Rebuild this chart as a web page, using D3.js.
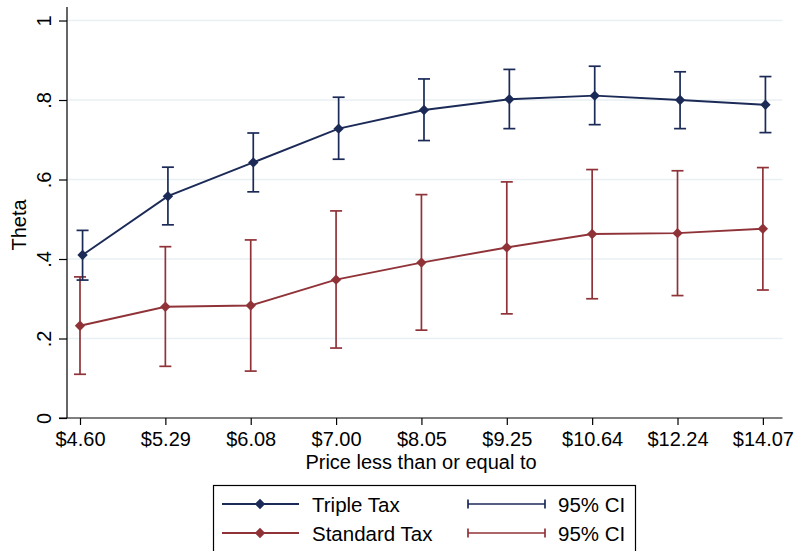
<!DOCTYPE html>
<html>
<head>
<meta charset="utf-8">
<script src="https://cdn.jsdelivr.net/npm/d3@7"></script>
<style>
  html, body { margin: 0; padding: 0; background: #fff; }
  svg { display: block; font-family: "Liberation Sans", Arial, sans-serif; }
</style>
</head>
<body>
<svg id="chart" width="796" height="551"></svg>
<script>
// Price thresholds on the x axis
const categories = ["$4.60", "$5.29", "$6.08", "$7.00", "$8.05", "$9.25", "$10.64", "$12.24", "$14.07"];

// Triple Tax estimates with 95% confidence bounds
const tripleTheta = [0.410, 0.558, 0.643, 0.728, 0.775, 0.802, 0.811, 0.800, 0.788];
const tripleLow   = [0.347, 0.486, 0.569, 0.651, 0.698, 0.728, 0.738, 0.728, 0.718];
const tripleHigh  = [0.472, 0.631, 0.717, 0.807, 0.853, 0.877, 0.885, 0.871, 0.859];

// Standard Tax estimates with 95% confidence bounds
const standardTheta = [0.232, 0.280, 0.283, 0.348, 0.391, 0.429, 0.463, 0.465, 0.476];
const standardLow   = [0.110, 0.130, 0.118, 0.176, 0.221, 0.262, 0.300, 0.308, 0.322];
const standardHigh  = [0.355, 0.431, 0.448, 0.521, 0.562, 0.594, 0.625, 0.622, 0.630];

const yTicks = [0, 0.2, 0.4, 0.6, 0.8, 1];
const yTickLabels = ["0", ".2", ".4", ".6", ".8", "1"];

const navy = "#1b2a57";
const maroon = "#903339";
const FONT = 20;

const svg = d3.select("#chart");

const x = d3.scaleLinear().domain([-0.246, 8.23]).range([59, 782.5]);
const y = d3.scaleLinear().domain([0, 1.034]).range([418, 7]);
// the Triple Tax series sits a hair to the right of each tick
const tripleShift = 0.03;

// gridlines
svg.append("g")
  .selectAll("line")
  .data(yTicks.filter(v => v > 0))
  .join("line")
  .attr("x1", 67).attr("x2", 782.5)
  .attr("y1", d => y(d)).attr("y2", d => y(d))
  .attr("stroke", "#e9f0f3").attr("stroke-width", 1.3);

// y axis
const yAxis = d3.axisLeft(y)
  .tickValues(yTicks)
  .tickFormat((d, i) => yTickLabels[i])
  .tickSize(8);
const gy = svg.append("g").attr("transform", "translate(67,0)").call(yAxis);
gy.select(".domain").remove();
gy.append("line").attr("x1", 0).attr("x2", 0).attr("y1", 7).attr("y2", 418)
  .attr("stroke", "#000").attr("stroke-width", 1.2);
gy.selectAll(".tick line").attr("stroke", "#000").attr("stroke-width", 1.2);
gy.selectAll(".tick text")
  .attr("font-size", FONT).attr("fill", "#000")
  .attr("transform", "rotate(-90)")
  .attr("x", 0).attr("y", -16).attr("dy", 0)
  .attr("text-anchor", "middle");

// x axis
const xAxis = d3.axisBottom(x)
  .tickValues(d3.range(categories.length))
  .tickFormat(i => categories[i])
  .tickSize(7)
  .tickPadding(7);
const gx = svg.append("g").attr("transform", "translate(0,418)").call(xAxis);
gx.select(".domain").remove();
gx.append("line").attr("x1", 59).attr("x2", 782.5).attr("y1", 0).attr("y2", 0)
  .attr("stroke", "#000").attr("stroke-width", 1.2);
gx.selectAll(".tick line").attr("stroke", "#000").attr("stroke-width", 1.2);
gx.selectAll(".tick text").attr("font-size", FONT).attr("fill", "#000");

// axis titles
svg.append("text")
  .attr("transform", "translate(26,225) rotate(-90)")
  .attr("text-anchor", "middle")
  .attr("font-size", FONT)
  .text("Theta");
svg.append("text")
  .attr("x", 421).attr("y", 469)
  .attr("text-anchor", "middle")
  .attr("font-size", FONT)
  .text("Price less than or equal to");

const diamondPath = d3.symbol().type(d3.symbolSquare).size(54)();

function drawSeries(theta, low, high, color, shift) {
  const g = svg.append("g");
  const cap = 6;
  // confidence intervals
  const ci = g.selectAll(".ci").data(theta.map((v, i) => ({ i, lo: low[i], hi: high[i] })))
    .join("g");
  ci.append("line")
    .attr("x1", d => x(d.i + shift)).attr("x2", d => x(d.i + shift))
    .attr("y1", d => y(d.lo)).attr("y2", d => y(d.hi))
    .attr("stroke", color).attr("stroke-width", 1.7);
  ci.append("line")
    .attr("x1", d => x(d.i + shift) - cap).attr("x2", d => x(d.i + shift) + cap)
    .attr("y1", d => y(d.lo)).attr("y2", d => y(d.lo))
    .attr("stroke", color).attr("stroke-width", 1.7);
  ci.append("line")
    .attr("x1", d => x(d.i + shift) - cap).attr("x2", d => x(d.i + shift) + cap)
    .attr("y1", d => y(d.hi)).attr("y2", d => y(d.hi))
    .attr("stroke", color).attr("stroke-width", 1.7);
  // connecting line
  g.append("path")
    .datum(theta)
    .attr("fill", "none")
    .attr("stroke", color)
    .attr("stroke-width", 1.9)
    .attr("d", d3.line().x((d, i) => x(i + shift)).y(d => y(d)));
  // diamond markers
  g.selectAll(".pt").data(theta).join("path")
    .attr("transform", (d, i) => `translate(${x(i + shift)},${y(d)}) rotate(45)`)
    .attr("d", diamondPath)
    .attr("fill", color);
}

drawSeries(standardTheta, standardLow, standardHigh, maroon, 0);
drawSeries(tripleTheta, tripleLow, tripleHigh, navy, tripleShift);

// legend
const legend = svg.append("g");
legend.append("rect")
  .attr("x", 213.5).attr("y", 485.5).attr("width", 422).attr("height", 80)
  .attr("fill", "#fff").attr("stroke", "#000").attr("stroke-width", 1.2);

const legendRows = [
  { label: "Triple Tax", color: navy, yy: 504 },
  { label: "Standard Tax", color: maroon, yy: 533 }
];
legendRows.forEach(r => {
  legend.append("line").attr("x1", 222).attr("x2", 299).attr("y1", r.yy).attr("y2", r.yy)
    .attr("stroke", r.color).attr("stroke-width", 1.9);
  legend.append("path")
    .attr("transform", `translate(260,${r.yy}) rotate(45)`)
    .attr("d", diamondPath)
    .attr("fill", r.color);
  legend.append("text").attr("x", 312).attr("y", r.yy + 8)
    .attr("font-size", 20.5).text(r.label);
  legend.append("line").attr("x1", 468).attr("x2", 545).attr("y1", r.yy).attr("y2", r.yy)
    .attr("stroke", r.color).attr("stroke-width", 1.7);
  legend.append("line").attr("x1", 468).attr("x2", 468).attr("y1", r.yy - 4.5).attr("y2", r.yy + 4.5)
    .attr("stroke", r.color).attr("stroke-width", 1.7);
  legend.append("line").attr("x1", 545).attr("x2", 545).attr("y1", r.yy - 4.5).attr("y2", r.yy + 4.5)
    .attr("stroke", r.color).attr("stroke-width", 1.7);
  legend.append("text").attr("x", 558).attr("y", r.yy + 8)
    .attr("font-size", 20.5).text("95% CI");
});
</script>
</body>
</html>
